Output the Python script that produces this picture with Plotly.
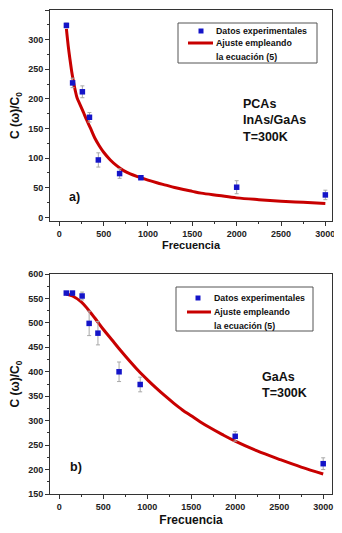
import plotly.graph_objects as go

# ---- Panel a) PCAs InAs/GaAs ----
freq_a = [80, 150, 260, 340, 440, 680, 920, 2000, 3000]
ratio_a = [324, 227, 212, 169, 97, 74, 67, 51, 38]
err_a = [4, 8, 10, 8, 12, 8, 3, 11, 8]
fit_x_a = [80, 100, 120, 140, 160, 180, 200, 235, 270, 310, 350, 400, 450, 500,
           575, 650, 725, 800, 900, 1000, 1100, 1200, 1300, 1400, 1500, 1600,
           1800, 2000, 2250, 2500, 2750, 3000]
fit_y_a = [318, 290, 267, 246, 229, 214, 202, 190, 178, 164, 151, 134, 121, 110,
           97, 87, 79, 73.5, 68, 63, 58.5, 54.5, 50.5, 47, 44, 41,
           37, 33, 30, 27.5, 25.5, 23.5]

# ---- Panel b) GaAs ----
freq_b = [80, 150, 260, 340, 440, 680, 920, 2000, 3000]
ratio_b = [561, 561, 555, 499, 479, 400, 374, 268, 212]
err_b = [3, 3, 8, 25, 24, 20, 15, 10, 12]
fit_x_b = [80, 150, 250, 325, 400, 500, 600, 700, 800, 900, 1000, 1100, 1200,
           1300, 1400, 1500, 1600, 1700, 1850, 2000, 2250, 2500, 2750, 3000]
fit_y_b = [559, 555, 543, 528, 511, 487, 465, 443, 422, 402, 384, 367, 351,
           336, 322, 310, 298, 287, 272, 258, 238, 221, 205, 191]

x_ticks = [0, 500, 1000, 1500, 2000, 2500, 3000]
legend_labels = ["Datos experimentales", "Ajuste empleando", "la ecuación (5)"]

BLUE = "#1414c8"
RED = "#c80000"
FONT = "Liberation Sans"

# page body has an 8px default margin -> figure drawn 8px smaller, offsets compensated
PL, PR, PT, PB = 50, 332, 10, 494   # plot area in screen pixels


def xp(sx):
    return (sx - PL) / (PR - PL)


def yp(sy):
    return (PB - sy) / (PB - PT)


fig = go.Figure()


def add_panel(fx, fy, dx, dy, de, xa, ya):
    fig.add_trace(go.Scatter(
        x=fx, y=fy, mode="lines", name="Ajuste",
        line=dict(color=RED, width=3, shape="spline", smoothing=1.0),
        xaxis=xa, yaxis=ya, showlegend=False))
    fig.add_trace(go.Scatter(
        x=dx, y=dy, mode="markers", name="Datos experimentales",
        marker=dict(symbol="square", size=5.5, color=BLUE),
        error_y=dict(type="data", array=de, color="#a8a8a8", thickness=1, width=2),
        xaxis=xa, yaxis=ya, showlegend=False))


add_panel(fit_x_a, fit_y_a, freq_a, ratio_a, err_a, "x", "y")
add_panel(fit_x_b, fit_y_b, freq_b, ratio_b, err_b, "x2", "y2")

tickfont = dict(family=FONT, size=9, color="#222", weight="bold")


def xaxis_cfg(anchor, rng, tsize, standoff):
    return dict(
        anchor=anchor, domain=[0, 1], range=rng, automargin=False,
        tickvals=x_ticks, ticks="outside", ticklen=4, tickcolor="#333",
        minor=dict(ticks="outside", ticklen=2, dtick=250, tick0=0, tickcolor="#333"),
        showline=True, linecolor="#333", linewidth=1, mirror=True,
        showgrid=False, zeroline=False, tickfont=tickfont,
        title=dict(text="Frecuencia", standoff=standoff,
                   font=dict(family=FONT, size=tsize, color="#111", weight="bold")))


def yaxis_cfg(anchor, dom, rng, dtick):
    return dict(
        anchor=anchor, domain=dom, range=rng, dtick=dtick, tick0=0, automargin=False,
        ticks="outside", ticklen=4, tickcolor="#333",
        minor=dict(ticks="outside", ticklen=2, dtick=dtick / 2, tickcolor="#333"),
        showline=True, linecolor="#333", linewidth=1, mirror=True,
        showgrid=False, zeroline=False, tickfont=tickfont,
        title=dict(text="C (\u03c9)/C<sub>0</sub>", standoff=9,
                   font=dict(family=FONT, size=12, color="#111", weight="bold")))


W, H = 334, 525
fig.update_layout(
    width=W, height=H,
    margin=dict(l=PL - 8, r=W - (PR - 8), t=PT - 8, b=H - (PB - 8)),
    paper_bgcolor="white", plot_bgcolor="white",
    xaxis=xaxis_cfg("y", [-105, 3075], 11, 2),
    yaxis=yaxis_cfg("x", [yp(221), 1.0], [-6, 350], 50),
    xaxis2=xaxis_cfg("y2", [-105, 3100], 12, 4),
    yaxis2=yaxis_cfg("x2", [0.0, yp(274)], [150, 600], 50),
    showlegend=False,
)

legfont = dict(family=FONT, size=8.8, color="#111", weight="bold")


def add_legend(box, mark, line_y, text_x, rows_y):
    x0, y0, x1, y1 = box
    fig.add_shape(type="rect", xref="paper", yref="paper",
                  x0=xp(x0), x1=xp(x1), y0=yp(y1), y1=yp(y0),
                  line=dict(color="#555", width=1), fillcolor="white", layer="above")
    mx, my = mark
    fig.add_shape(type="rect", xref="paper", yref="paper",
                  x0=xp(mx - 2.5), x1=xp(mx + 2.5), y0=yp(my + 2.5), y1=yp(my - 2.5),
                  line=dict(width=0), fillcolor=BLUE, layer="above")
    lx0, lx1 = line_y[1], line_y[2]
    fig.add_shape(type="line", xref="paper", yref="paper",
                  x0=xp(lx0), x1=xp(lx1), y0=yp(line_y[0]), y1=yp(line_y[0]),
                  line=dict(color=RED, width=3), layer="above")
    for label, ry in zip(legend_labels, rows_y):
        fig.add_annotation(text=label, xref="paper", yref="paper",
                           x=xp(text_x), y=yp(ry), xanchor="left", yanchor="middle",
                           showarrow=False, font=legfont)


add_legend((178, 23, 317, 63), (201, 31), (43, 188, 213), 214, (31, 43, 57))
add_legend((176, 287, 313, 331), (198, 298), (312, 187, 211), 212, (298, 312, 326))

annfont = dict(family=FONT, size=12.5, color="#111", weight="bold")
fig.add_annotation(text="PCAs<br>InAs/GaAs<br>T=300K", xref="paper", yref="paper",
                   x=xp(241), y=yp(95), xanchor="left", yanchor="top",
                   align="left", showarrow=False, font=annfont)
fig.add_annotation(text="a)", xref="paper", yref="paper",
                   x=xp(67), y=yp(197), xanchor="left", yanchor="middle",
                   showarrow=False, font=annfont)
fig.add_annotation(text="GaAs<br>T=300K", xref="paper", yref="paper",
                   x=xp(260), y=yp(368), xanchor="left", yanchor="top",
                   align="left", showarrow=False, font=annfont)
fig.add_annotation(text="b)", xref="paper", yref="paper",
                   x=xp(68), y=yp(467), xanchor="left", yanchor="middle",
                   showarrow=False, font=annfont)

fig.write_html("out.html")
